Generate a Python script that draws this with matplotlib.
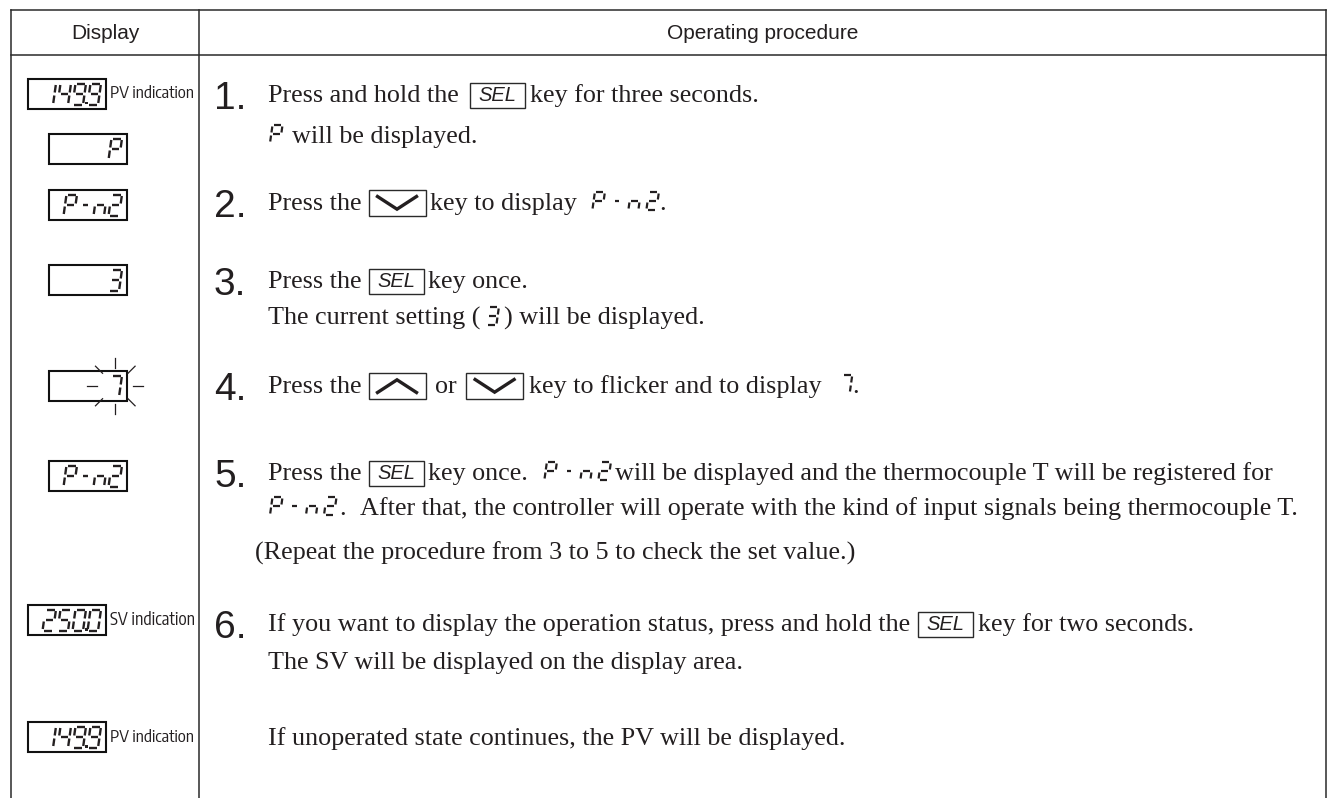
import math
import matplotlib
matplotlib.use('Agg')
import matplotlib.pyplot as plt
from matplotlib import font_manager as fm
from matplotlib.patches import Rectangle

# ---------------- data ----------------
header_labels = ['Display', 'Operating procedure']
display_codes = ['149.9', 'P', 'P-n2', '3', '7', 'P-n2', '250.0', '149.9']
display_labels = ['PV indication', '', '', '', '', '', 'SV indication', 'PV indication']
step_numbers = ['1.', '2.', '3.', '4.', '5.', '6.']

# inline items: ('t', text) text, ('g', px) gap, ('k', 'SEL'|'UP'|'DOWN') key, ('s', code) 7-seg
line_1a = [('t', 'Press and hold the'), ('g', 11), ('k', 'SEL'), ('g', 5), ('t', 'key for three seconds.')]
line_1b = [('s', 'P'), ('g', 9), ('t', 'will be displayed.')]
line_2 = [('t', 'Press the'), ('g', 7), ('k', 'DOWN'), ('g', 5), ('t', 'key to display'), ('g', 15), ('s', 'P-n2'), ('t', '.')]
line_3a = [('t', 'Press the'), ('g', 7), ('k', 'SEL'), ('g', 5), ('t', 'key once.')]
line_3b = [('t', 'The current setting ('), ('g', 6), ('s', '3'), ('g', 5), ('t', ') will be displayed.')]
line_4 = [('t', 'Press the'), ('g', 7), ('k', 'UP'), ('g', 10), ('t', 'or'), ('g', 9), ('k', 'DOWN'), ('g', 6),
          ('t', 'key to flicker and to display'), ('g', 18), ('s', '7'), ('t', '.')]
line_5a = [('t', 'Press the'), ('g', 7), ('k', 'SEL'), ('g', 5), ('t', 'key once.'), ('g', 16), ('s', 'P-n2'), ('g', 4),
           ('t', 'will be displayed and the thermocouple T will be registered for')]
line_5b = [('s', 'P-n2'), ('g', 3), ('t', '.'), ('g', 14),
           ('t', 'After that, the controller will operate with the kind of input signals being thermocouple T.')]
line_rep = [('t', '(Repeat the procedure from 3 to 5 to check the set value.)')]
line_6a = [('t', 'If you want to display the operation status, press and hold the'), ('g', 8), ('k', 'SEL'), ('g', 5),
           ('t', 'key for two seconds.')]
line_6b = [('t', 'The SV will be displayed on the display area.')]
line_7 = [('t', 'If unoperated state continues, the PV will be displayed.')]

# ---------------- style ----------------
names = {f.name for f in fm.fontManager.ttflist}
SERIF = 'Liberation Serif' if 'Liberation Serif' in names else 'DejaVu Serif'
SANS = 'Liberation Sans' if 'Liberation Sans' in names else 'DejaVu Sans'


def _wt(f):
    w = f.weight
    if isinstance(w, str):
        w = fm.weight_dict.get(w, 400)
    return w


def find_narrow():
    regular = [f for f in fm.fontManager.ttflist if f.style == 'normal' and _wt(f) == 400]
    for f in regular:
        if f.name == 'Liberation Sans Narrow':
            return f.fname
    for f in regular:
        if ('Condensed' in f.name or 'Narrow' in f.name) and 'Sans' in f.name and 'Mono' not in f.name:
            return f.fname
    for f in regular:
        if str(f.stretch) in ('condensed', 'semi-condensed') and 'Sans' in f.name and 'Mono' not in f.name:
            return f.fname
    return None


NARROW_FILE = find_narrow()
TXT = '#231f20'
LINE = '#2a2a2a'

W, H = 1333, 798
fig = plt.figure(figsize=(W / 100, H / 100), dpi=100)
ax = fig.add_axes([0, 0, 1, 1])
ax.set_xlim(0, W)
ax.set_ylim(H, 0)
ax.axis('off')
renderer = fig.canvas.get_renderer()

# table frame
XL, XD, XR = 11, 199, 1326
YT, YH = 10, 55
ax.plot([XL, XR], [YT, YT], color=LINE, lw=1.1)
ax.plot([XL, XR], [YH, YH], color=LINE, lw=1.1)
for xx in (XL, XD, XR):
    ax.plot([xx, xx], [YT, H], color=LINE, lw=1.1)
ax.text((XL + XD) / 2, (YT + YH) / 2 + 1, header_labels[0], family=SANS, fontsize=15,
        ha='center', va='center', color=TXT)
ax.text((XD + XR) / 2, (YT + YH) / 2 + 1, header_labels[1], family=SANS, fontsize=15,
        ha='center', va='center', color=TXT)

SEGS = {'0': 'abcdef', '1': 'bc', '2': 'abged', '3': 'abgcd', '4': 'fgbc', '5': 'afgcd',
        '7': 'abc', '9': 'abcdfg', 'P': 'abefg', '-': 'g', 'n': 'ceg'}


def seg_digit(x, ybot, ch, h, w, lw, slant=0.14, gap=1.5):
    """draw one 7-seg glyph; x = left of bottom, ybot = bottom pixel (y down)"""
    hm = h / 2
    segdef = {
        'a': ((gap, h), (w - gap, h)),
        'b': ((w, h - gap), (w, hm + gap)),
        'c': ((w, hm - gap), (w, gap)),
        'd': ((gap, 0), (w - gap, 0)),
        'e': ((0, gap), (0, hm - gap)),
        'f': ((0, hm + gap), (0, h - gap)),
        'g': ((gap, hm), (w - gap, hm)),
    }
    if ch == '-':
        segdef['g'] = ((w * 0.3, hm), (w * 0.75, hm))
    for s in SEGS[ch]:
        (u1, v1), (u2, v2) = segdef[s]
        ax.plot([x + u1 + slant * v1, x + u2 + slant * v2], [ybot - v1, ybot - v2],
                color=TXT, lw=lw, solid_capstyle='butt')


def seg_string(x, ybot, code, h, w, pitch, lw, slant=0.14):
    centers = []
    cx = x
    for ch in code:
        if ch == '.':
            px = cx - pitch + w + 2.0
            ax.add_patch(Rectangle((px, ybot - 2.6), 2.6, 2.6, color=TXT, lw=0))
            continue
        seg_digit(cx, ybot, ch, h, w, lw, slant)
        centers.append((cx + w / 2 + slant * h / 2, ybot - h / 2))
        cx += pitch
    return cx - pitch + w + slant * h, centers


def seg_width(code, w, pitch, h, slant=0.14):
    n = len([c for c in code if c != '.'])
    return (n - 1) * pitch + w + slant * h


def key_box(x, yc, kind):
    if kind == 'SEL':
        bw, bh = 55, 25
        ax.add_patch(Rectangle((x, yc - bh / 2), bw, bh, fill=False, ec=LINE, lw=1.0))
        ax.text(x + bw / 2, yc + 0.5, 'SEL', family=SANS, style='italic', fontsize=14.5,
                ha='center', va='center', color=TXT)
    else:
        bw, bh = 57, 26
        ax.add_patch(Rectangle((x, yc - bh / 2), bw, bh, fill=False, ec=LINE, lw=1.0))
        d = 6.5 if kind == 'DOWN' else -6.5
        ax.plot([x + 9, x + bw / 2, x + bw - 9], [yc - d, yc + d * 0.95, yc - d],
                color=TXT, lw=2.4, solid_joinstyle='miter')
    return bw


# fit body font so the long line of step 5 ends near the right border
probe = ax.text(0, 0, line_5b[-1][1], family=SERIF, fontsize=10)
w10 = probe.get_window_extent(renderer).width
probe.remove()
FS = 10 * (1296 - 360) / w10

TS_H, TS_W, TS_P, TS_LW = 18, 10, 18, 1.6


def draw_line(x, yc, items):
    base = yc + 7
    for kind, val in items:
        if kind == 't':
            t = ax.text(x, base, val, family=SERIF, fontsize=FS, ha='left', va='baseline', color=TXT)
            x += t.get_window_extent(renderer).width
        elif kind == 'g':
            x += val
        elif kind == 'k':
            x += key_box(x, yc, val)
        elif kind == 's':
            x, _ = seg_string(x, base, val, TS_H, TS_W, TS_P, TS_LW)
    return x


def step_number(y, label):
    ax.text(214, y + 14, label, family=SANS, fontsize=28, ha='left', va='baseline', color=TXT)


TX = 268
step_rows = [95, 203, 281, 386, 473, 624]
for lab, yy in zip(step_numbers, step_rows):
    step_number(yy, lab)

draw_line(TX, 95, line_1a)
draw_line(TX + 2, 136, line_1b)
draw_line(TX, 203, line_2)
draw_line(TX, 281, line_3a)
draw_line(TX, 318, line_3b)
draw_line(TX, 386, line_4)
draw_line(TX, 473, line_5a)
draw_line(TX + 2, 508, line_5b)
draw_line(255, 553, line_rep)
draw_line(TX, 624, line_6a)
draw_line(TX, 662, line_6b)
draw_line(TX, 738, line_7)

# left column display boxes
box_specs = [(28, 94), (49, 149), (49, 205), (49, 280), (49, 386), (49, 476), (28, 620), (28, 737)]
BW, BH = 78, 30
for (bx, by), code, lab in zip(box_specs, display_codes, display_labels):
    ax.add_patch(Rectangle((bx, by - BH / 2), BW, BH, fill=False, ec='#111', lw=1.5))
    dh, dw, dp = 21, 10.5, 15
    wid = seg_width(code, dw, dp, dh)
    x0 = bx + BW - 5 - wid
    _, centers = seg_string(x0, by + dh / 2, code, dh, dw, dp, 1.7)
    if lab:
        if NARROW_FILE:
            fp = fm.FontProperties(fname=NARROW_FILE, size=12)
        else:
            fp = fm.FontProperties(family=SANS, size=12)
        t = ax.text(bx + BW + 4, by, lab, fontproperties=fp, ha='left', va='center', color=TXT)
        wcur = t.get_window_extent(renderer).width
        fp.set_size(12 * 84 / wcur)
        t.set_fontproperties(fp)
    if code == '7':
        cx, cy = centers[-1]
        for k in range(8):
            ang = math.radians(45 * k)
            r1, r2 = 18, 28
            ax.plot([cx + r1 * math.cos(ang), cx + r2 * math.cos(ang)],
                    [cy + r1 * math.sin(ang), cy + r2 * math.sin(ang)], color=TXT, lw=0.9)

fig.savefig('out.png', dpi=100)
